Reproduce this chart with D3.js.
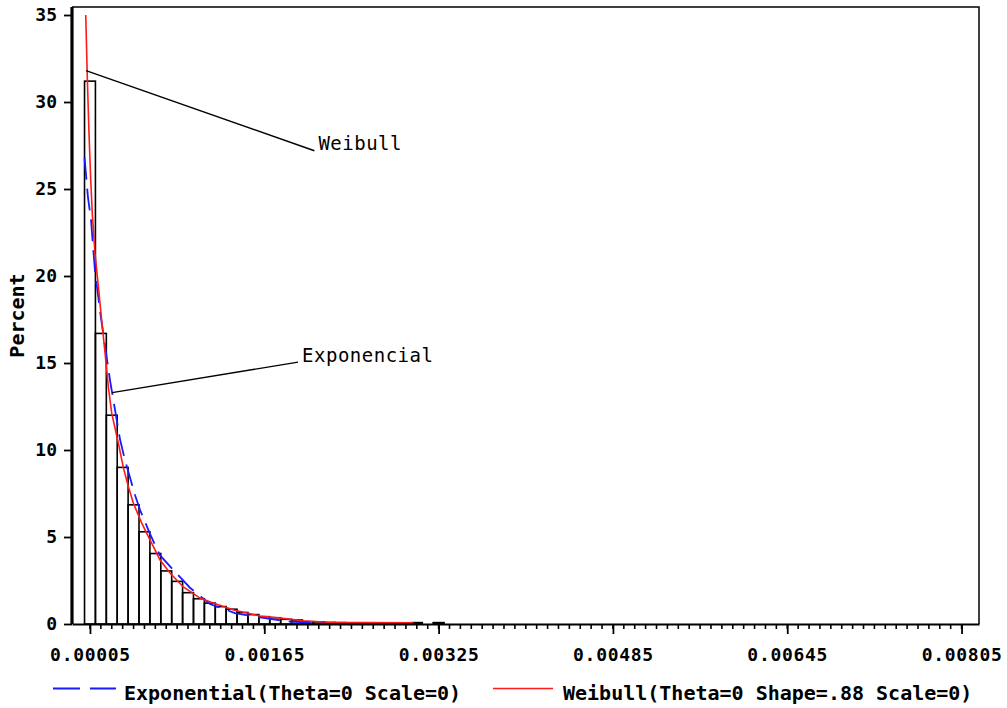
<!DOCTYPE html>
<html>
<head>
<meta charset="utf-8">
<script src="https://cdn.jsdelivr.net/npm/d3@7"></script>
<style>
	body { margin: 0; background: #fff; }
	svg { display: block; }
	.mono { font-family: "DejaVu Sans Mono", "Liberation Mono", monospace; }
</style>
</head>
<body>
<div id="chart"></div>
<script>
// histogram bins (midpoints) and percent per bin
const binMids = [0.00005, 0.00015, 0.00025, 0.00035, 0.00045, 0.00055, 0.00065, 0.00075,
	0.00085, 0.00095, 0.00105, 0.00115, 0.00125, 0.00135, 0.00145, 0.00155, 0.00165,
	0.00175, 0.00185, 0.00195, 0.00205, 0.00215, 0.00225, 0.00235, 0.00245, 0.00255,
	0.00265, 0.00275, 0.00285, 0.00295, 0.00305, 0.00315, 0.00325];
const binPercent = [31.2, 16.7, 12.0, 9.0, 6.85, 5.3, 4.05, 3.05,
	2.45, 1.8, 1.45, 1.2, 1.0, 0.85, 0.66, 0.54, 0.42,
	0.36, 0.27, 0.23, 0.13, 0.12, 0.09, 0.08, 0.07, 0.07,
	0.06, 0.06, 0.05, 0.05, 0.08, 0, 0.08];
const binWidth = 0.0001;

// fitted curves
const expX = [0.0, 0.000014, 0.000032, 0.00006, 0.000078, 0.000096, 0.000142, 0.000188,
	0.000234, 0.00028, 0.000326, 0.000372, 0.000418, 0.000464, 0.00051, 0.0006, 0.00069,
	0.00083, 0.00097, 0.00115, 0.00138, 0.00158, 0.00178, 0.0019, 0.00223];
const expPercent = [26.8, 25.8, 24.5, 23.2, 21.7, 20.3, 18.0, 16.0,
	14.0, 12.3, 10.6, 9.4, 8.4, 7.4, 6.55, 5.2, 3.97,
	3.0, 2.07, 1.15, 0.63, 0.40, 0.23, 0.13, 0.07];

const weibX = [0.000011, 0.000026, 0.000041, 0.000057, 0.000072, 0.000096, 0.000127, 0.000158,
	0.000188, 0.000219, 0.00025, 0.00031, 0.000356, 0.000402, 0.000448, 0.000525, 0.000601,
	0.000693, 0.000785, 0.000907, 0.00106, 0.00118, 0.00137, 0.00149, 0.00161, 0.0018,
	0.00201, 0.00223, 0.0026, 0.00302];
const weibPercent = [35.0, 31.3, 28.2, 25.5, 23.5, 21.3, 19.4, 17.4,
	15.6, 13.6, 12.1, 10.4, 9.0, 7.9, 6.95, 5.8, 4.83,
	3.68, 2.93, 2.13, 1.49, 1.21, 0.80, 0.63, 0.46, 0.34,
	0.19, 0.10, 0.08, 0.07];

const xTicks = [0.00005, 0.00165, 0.00325, 0.00485, 0.00645, 0.00805];
const xTickLabels = ["0.00005", "0.00165", "0.00325", "0.00485", "0.00645", "0.00805"];
const yTicks = [0, 5, 10, 15, 20, 25, 30, 35];

const annoLabels = ["Weibull", "Exponencial"];
const annoFrom = [[0.000014, 31.8], [0.000253, 13.3]];
const annoTo = [[0.00211, 27.2], [0.00196, 15.05]];

const legendLabels = ["Exponential(Theta=0 Scale=0)", "Weibull(Theta=0 Shape=.88 Scale=0)"];

const width = 1007, height = 708;
const margin = { top: 7, right: 28, bottom: 84, left: 72 };

let svg = d3.select("#chart").append("svg")
	.attr("width", width)
	.attr("height", height);

let x = d3.scaleLinear()
	.domain([-0.000115, 0.00821])
	.range([margin.left, width - margin.right]);

let y = d3.scaleLinear()
	.domain([0, 35.46])
	.range([height - margin.bottom, margin.top]);

// bars
svg.append("g").selectAll("rect")
	.data(binMids.map((m, i) => ({ mid: m, pct: binPercent[i] })).filter(d => d.pct > 0))
	.enter().append("rect")
	.attr("x", d => x(d.mid - binWidth / 2))
	.attr("width", d => x(d.mid + binWidth / 2) - x(d.mid - binWidth / 2))
	.attr("y", d => y(d.pct))
	.attr("height", d => y(0) - y(d.pct))
	.attr("fill", "none")
	.attr("stroke", "#000")
	.attr("stroke-width", 1.6);

// curves
let line = d3.line()
	.x(d => x(d[0]))
	.y(d => y(d[1]));

svg.append("path")
	.datum(expX.map((v, i) => [v, expPercent[i]]))
	.attr("d", line)
	.attr("fill", "none")
	.attr("stroke", "#1a1aff")
	.attr("stroke-width", 1.8)
	.attr("stroke-dasharray", "22,9");

svg.append("path")
	.datum(weibX.map((v, i) => [v, weibPercent[i]]))
	.attr("d", line)
	.attr("fill", "none")
	.attr("stroke", "#ff1a1a")
	.attr("stroke-width", 1.6);

// frame
svg.append("path")
	.attr("d", `M${x.range()[0]},${y.range()[1]}H${x.range()[1]}V${y.range()[0]}`)
	.attr("fill", "none")
	.attr("stroke", "#000")
	.attr("stroke-width", 1.5);

// x axis
let xAxis = d3.axisBottom(x)
	.tickValues(xTicks)
	.tickFormat((d, i) => xTickLabels[i])
	.tickSize(10)
	.tickPadding(14)
	.tickSizeOuter(0);

let gx = svg.append("g")
	.attr("transform", `translate(0,${y(0)})`)
	.call(xAxis);

gx.selectAll(".tick line").attr("stroke-width", 1.8);
gx.select(".domain").attr("stroke-width", 2);
gx.selectAll("text")
	.classed("mono", true)
	.attr("font-size", 18)
	.attr("font-weight", "bold")
	.attr("letter-spacing", 0.7)
	.attr("fill", "#000");

let minor = d3.range(0, 81).map(i => 0.00005 + i * binWidth);
gx.selectAll(".minor")
	.data(minor)
	.enter().append("line")
	.attr("class", "minor")
	.attr("x1", d => x(d)).attr("x2", d => x(d))
	.attr("y1", 0).attr("y2", 5)
	.attr("stroke", "#000")
	.attr("stroke-width", 1.6);

// y axis
let yAxis = d3.axisLeft(y)
	.tickValues(yTicks)
	.tickSize(8)
	.tickPadding(7)
	.tickSizeOuter(0);

let gy = svg.append("g")
	.attr("transform", `translate(${x.range()[0]},0)`)
	.call(yAxis);

gy.select(".domain")
	.attr("d", `M0,${y(0)}V${y.range()[1]}`)
	.attr("stroke-width", 3.2);
gy.selectAll(".tick line").attr("stroke-width", 1.8);
gy.selectAll("text")
	.classed("mono", true)
	.attr("font-size", 18)
	.attr("font-weight", "bold")
	.attr("fill", "#000");

svg.append("text")
	.classed("mono", true)
	.attr("transform", `translate(24,${(y.range()[0] + y.range()[1]) / 2}) rotate(-90)`)
	.attr("text-anchor", "middle")
	.attr("font-size", 20)
	.attr("font-weight", "bold")
	.text("Percent");

// annotations
annoLabels.forEach((label, i) => {
	svg.append("line")
		.attr("x1", x(annoFrom[i][0])).attr("y1", y(annoFrom[i][1]))
		.attr("x2", x(annoTo[i][0])).attr("y2", y(annoTo[i][1]))
		.attr("stroke", "#000")
		.attr("stroke-width", 1.4);
	svg.append("text")
		.classed("mono", true)
		.attr("x", x(annoTo[i][0]) + 4)
		.attr("y", y(annoTo[i][1]) - 6)
		.attr("font-size", 19)
		.attr("dominant-baseline", "middle")
		.attr("letter-spacing", 0.5)
		.text(label);
});

// legend
let legend = svg.append("g");
legend.append("line")
	.attr("x1", 53).attr("x2", 116)
	.attr("y1", 688.5).attr("y2", 688.5)
	.attr("stroke", "#1a1aff")
	.attr("stroke-width", 1.8)
	.attr("stroke-dasharray", "27,10");
legend.append("text")
	.classed("mono", true)
	.attr("x", 124).attr("y", 700)
	.attr("font-size", 20)
	.attr("font-weight", "bold")
	.text(legendLabels[0]);
legend.append("line")
	.attr("x1", 493).attr("x2", 553)
	.attr("y1", 688.5).attr("y2", 688.5)
	.attr("stroke", "#ff1a1a")
	.attr("stroke-width", 1.6);
legend.append("text")
	.classed("mono", true)
	.attr("x", 563).attr("y", 700)
	.attr("font-size", 20)
	.attr("font-weight", "bold")
	.text(legendLabels[1]);
</script>
</body>
</html>
